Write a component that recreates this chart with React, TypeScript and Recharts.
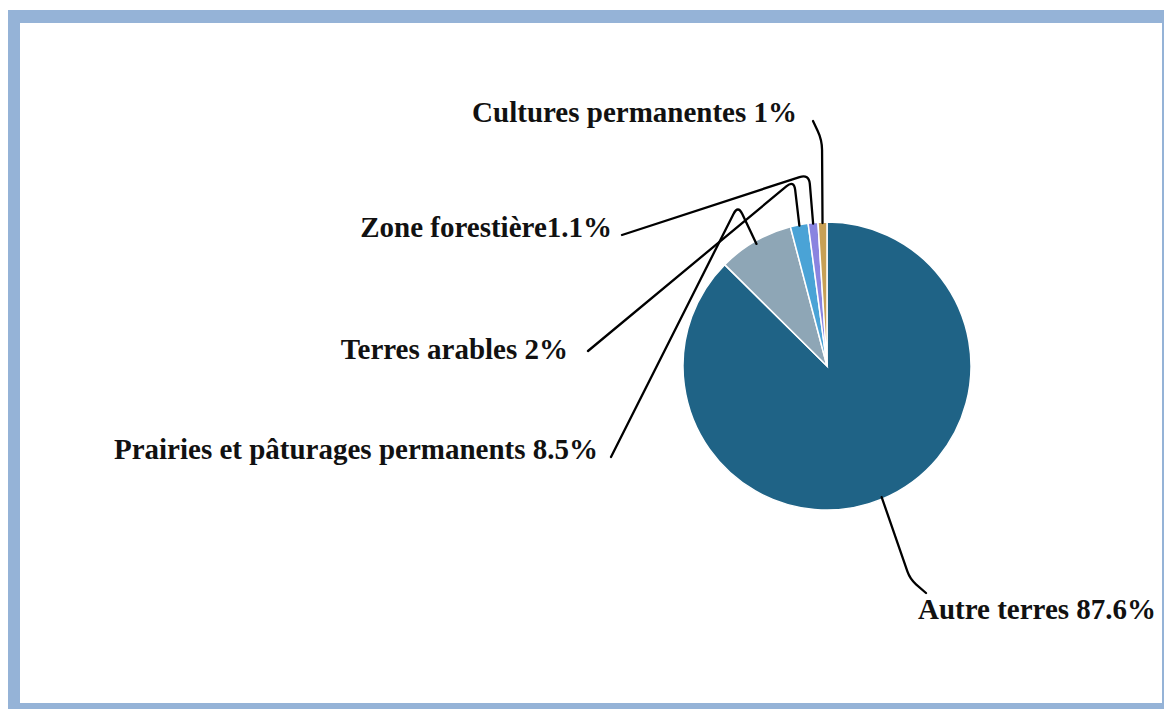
import React from 'react';
import { PieChart, Pie, Cell } from 'recharts';

const categories = [
  'Autre terres',
  'Prairies et pâturages permanents',
  'Terres arables',
  'Zone forestière',
  'Cultures permanentes',
];
const values = [87.6, 8.5, 2, 1.1, 1];
const labelTexts = [
  'Autre terres 87.6%',
  'Prairies et pâturages permanents 8.5%',
  'Terres arables 2%',
  'Zone forestière1.1%',
  'Cultures permanentes 1%',
];
const colors = ['#1F6386', '#8EA6B6', '#4AA3D6', '#8A84E0', '#C8A055'];

const data = categories.map((name, i) => ({ name, value: values[i] }));

// label layout, offsets relative to pie centre
type Pt = [number, number];
const labelLayout: { text: Pt; anchor: 'start' | 'end'; start: Pt | null; peak: Pt; end: Pt | null; inset: number }[] = [
  { text: [91, 253], anchor: 'start', start: null, peak: [83, 213], end: [99, 227], inset: 2 },
  { text: [-229, 93], anchor: 'end', start: [-216, 91], peak: [-89, -161], end: null, inset: 3 },
  { text: [-259, -7], anchor: 'end', start: [-239, -15], peak: [-33, -186], end: null, inset: 1 },
  { text: [-215, -129], anchor: 'end', start: [-205, -131], peak: [-18, -192], end: null, inset: 1 },
  { text: [-30, -244], anchor: 'end', start: [-14, -245], peak: [-5, -226], end: null, inset: 1 },
];

const RAD = Math.PI / 180;

function roundedPath(s: Pt, p: Pt, e: Pt, r: number) {
  const d1 = Math.hypot(s[0] - p[0], s[1] - p[1]) || 1;
  const d2 = Math.hypot(e[0] - p[0], e[1] - p[1]) || 1;
  const k1 = Math.min(r, d1 / 2) / d1;
  const k2 = Math.min(r, d2 / 2) / d2;
  const a: Pt = [p[0] + (s[0] - p[0]) * k1, p[1] + (s[1] - p[1]) * k1];
  const b: Pt = [p[0] + (e[0] - p[0]) * k2, p[1] + (e[1] - p[1]) * k2];
  return `M${s[0]},${s[1]} L${a[0]},${a[1]} Q${p[0]},${p[1]} ${b[0]},${b[1]} L${e[0]},${e[1]}`;
}

const renderLabel = (props: any) => {
  const { cx, cy, midAngle, outerRadius, index } = props;
  const L = labelLayout[index];
  const r = outerRadius - L.inset;
  const slicePt: Pt = [cx + r * Math.cos(-midAngle * RAD), cy + r * Math.sin(-midAngle * RAD)];
  const peak: Pt = [cx + L.peak[0], cy + L.peak[1]];
  let d: string;
  if (L.start === null) {
    const e: Pt = [cx + (L.end as Pt)[0], cy + (L.end as Pt)[1]];
    d = roundedPath(slicePt, peak, e, 8);
  } else {
    const s: Pt = [cx + L.start[0], cy + L.start[1]];
    d = roundedPath(s, peak, slicePt, 10);
  }
  return (
    <g key={`lbl-${index}`}>
      <path d={d} fill="none" stroke="#000" strokeWidth={2.3} strokeLinejoin="round" strokeLinecap="round" />
      <text
        x={cx + L.text[0]}
        y={cy + L.text[1]}
        textAnchor={L.anchor}
        fontFamily="'Liberation Serif', 'Times New Roman', serif"
        fontWeight="bold"
        fontSize={29}
        fill="#111"
      >
        {labelTexts[index]}
      </text>
    </g>
  );
};

export default function App() {
  return (
    <div style={{ position: 'absolute', left: 0, top: 0, width: 1167, height: 709, background: '#fff', overflow: 'hidden' }}>
      <div
        style={{
          position: 'absolute',
          left: 8,
          top: 10,
          width: 1167 - 8 - 3,
          height: 709 - 10,
          boxSizing: 'border-box',
          borderStyle: 'solid',
          borderColor: '#95B3D7',
          borderTopWidth: 13,
          borderLeftWidth: 12,
          borderRightWidth: 2,
          borderBottomWidth: 6,
          background: '#fff',
        }}
      />
      <div style={{ position: 'absolute', left: 0, top: 0 }}>
        <PieChart width={1167} height={709} margin={{ top: 0, right: 0, bottom: 0, left: 0 }}>
          <Pie
            data={data}
            dataKey="value"
            nameKey="name"
            cx={827}
            cy={366}
            outerRadius={144}
            startAngle={90}
            endAngle={-270}
            stroke="#fff"
            strokeWidth={1.5}
            label={renderLabel}
            labelLine={false}
            isAnimationActive={false}
          >
            {data.map((_, i) => (
              <Cell key={`c-${i}`} fill={colors[i]} />
            ))}
          </Pie>
        </PieChart>
      </div>
    </div>
  );
}
